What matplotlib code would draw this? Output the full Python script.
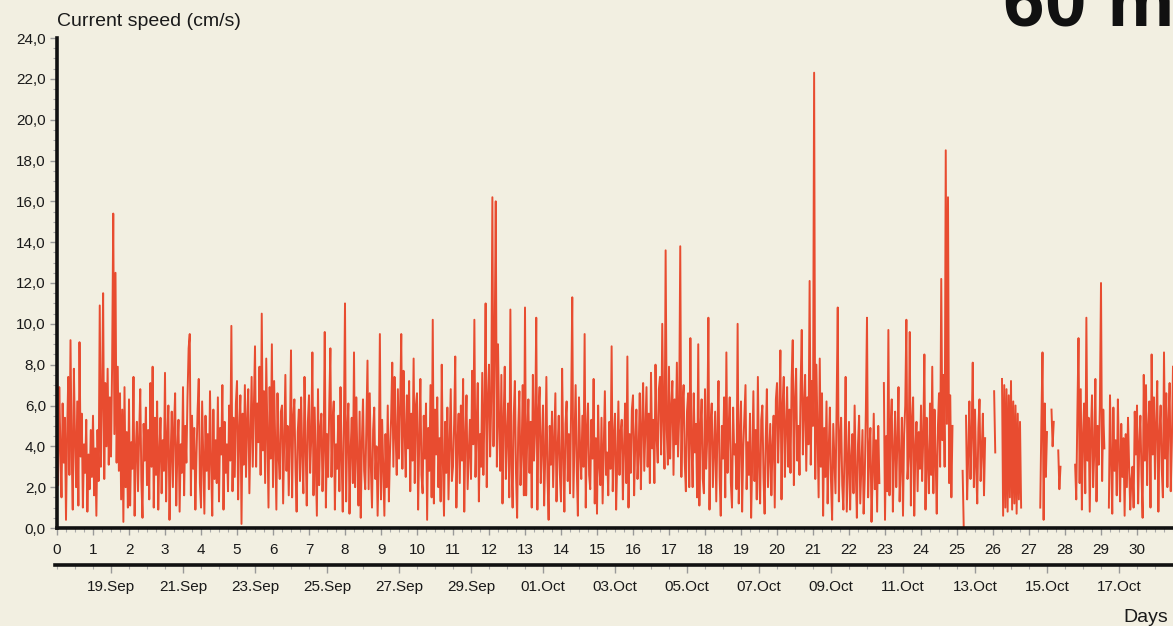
import numpy as np
import matplotlib.pyplot as plt
from matplotlib.ticker import MultipleLocator, FixedLocator, FuncFormatter

nan = np.nan

# current speed (cm/s), 32 readings per day; nan = no data
week1 = [8.3, 2.1, 6.9, 4.0, 1.5, 6.1, 3.2, 5.4, 0.4, 4.6, 7.4, 2.6, 9.2, 3.8, 0.9, 7.8,
         4.4, 2.0, 6.2, 1.1, 9.1, 3.5, 5.6, 1.0, 4.1, 2.7, 5.3, 0.8, 3.6, 1.9, 4.8, 2.5,
         5.5, 1.6, 3.9, 0.6, 4.8, 2.3, 10.9, 3.0, 6.2, 11.5, 2.4, 7.1, 4.0, 7.8, 3.1, 6.4,
         3.5, 8.0, 15.4, 4.6, 12.5, 3.2, 7.9, 2.8, 6.6, 1.4, 5.8, 0.3, 6.9, 2.0, 4.7, 1.0,
         6.3, 1.1, 4.2, 2.9, 7.4, 0.6, 3.8, 5.2, 1.8, 4.5, 6.8, 2.3, 0.5, 5.1, 3.3, 5.9,
         2.1, 4.8, 1.4, 7.1, 3.0, 7.9, 1.0, 5.4, 2.6, 6.2, 0.9, 3.7, 5.4, 1.7, 4.3, 2.8,
         7.6, 1.3, 4.4, 6.0, 0.4, 3.5, 5.7, 2.0, 4.9, 6.6, 1.1, 3.8, 5.3, 0.8, 4.1, 2.7,
         6.9, 1.6, 5.0, 3.2, 6.4, 8.8, 9.5, 1.6, 5.5, 2.9, 4.9, 0.9, 3.6, 5.8, 7.3, 2.2,
         1.0, 6.2, 3.4, 0.7, 5.5, 2.8, 4.6, 1.9, 6.7, 3.1, 0.6, 5.8, 2.4, 4.3, 2.2, 6.4,
         1.3, 4.9, 3.6, 7.0, 0.9, 5.2, 2.7, 4.1, 1.8, 6.0, 3.3, 9.9, 1.8, 5.4, 2.5, 6.1,
         7.2, 1.4, 4.8, 6.5, 0.2, 5.6, 3.1, 7.0, 2.5, 5.2, 6.8, 1.7, 4.5, 7.4, 3.0, 5.9,
         8.9, 3.0, 6.1, 4.2, 7.9, 2.6, 10.5, 3.8, 6.7, 2.2, 8.3, 4.6, 1.0, 6.9, 3.4, 9.0,
         2.0, 7.2, 4.1, 0.9, 6.6, 3.5, 2.4, 5.7, 6.0, 1.2, 4.5, 7.5, 2.8, 5.0, 1.6, 4.3,
         8.7, 1.5, 5.4, 6.3, 2.9, 0.8, 4.7, 5.8, 2.3, 6.4, 3.6, 1.7, 7.4, 4.0, 1.1, 5.2]
week2 = [6.5, 2.7, 4.4, 8.6, 1.6, 5.9, 3.3, 0.6, 6.8, 2.1, 4.9, 5.6, 1.8, 3.9, 9.6, 1.0,
         4.6, 2.5, 6.0, 8.8, 2.5, 5.3, 6.2, 0.9, 4.1, 2.9, 5.5, 1.8, 6.9, 3.4, 0.8, 5.0,
         11.0, 1.3, 4.7, 6.1, 0.7, 3.8, 5.4, 2.2, 8.6, 2.0, 6.4, 3.5, 1.1, 5.7, 0.5, 4.2,
         6.3, 2.8, 1.9, 5.0, 8.2, 1.9, 6.6, 3.0, 1.0, 4.8, 5.9, 2.4, 4.0, 0.6, 3.2, 9.5,
         1.4, 5.3, 3.0, 0.6, 4.6, 2.0, 6.0, 1.3, 3.7, 5.4, 8.1, 3.0, 7.4, 4.5, 2.6, 6.8,
         3.4, 5.9, 9.5, 2.9, 7.7, 4.8, 2.5, 6.5, 3.9, 7.2, 1.8, 5.6, 3.3, 8.3, 2.2, 6.0,
         6.6, 0.9, 4.3, 7.3, 2.6, 1.7, 5.5, 3.4, 6.1, 0.4, 4.9, 2.8, 7.0, 1.5, 10.2, 1.2,
         5.8, 3.6, 6.4, 2.0, 4.4, 1.3, 8.0, 3.2, 0.6, 5.2, 2.7, 5.9, 1.4, 4.0, 6.8, 2.3,
         3.0, 5.1, 8.4, 1.0, 4.2, 5.6, 2.2, 6.0, 3.3, 7.3, 0.8, 4.4, 6.5, 1.9, 3.6, 5.3,
         2.4, 7.7, 4.1, 10.2, 2.5, 5.0, 7.1, 1.3, 4.6, 3.0, 7.6, 2.6, 5.8, 11.0, 2.0, 6.2,
         8.0, 3.5, 6.2, 16.2, 4.0, 8.8, 16.0, 3.0, 9.0, 5.1, 2.8, 7.5, 1.2, 5.3, 7.9, 2.4,
         4.6, 6.1, 1.5, 10.7, 3.1, 1.0, 5.5, 7.2, 2.7, 0.5, 4.9, 6.7, 2.1, 3.8, 7.0, 1.6,
         10.8, 1.6, 4.5, 6.3, 2.7, 5.2, 1.0, 7.5, 3.3, 4.8, 10.3, 0.9, 5.6, 6.9, 2.2, 4.0,
         6.0, 1.1, 3.5, 7.4, 2.5, 0.4, 5.0, 3.1, 5.7, 2.0, 4.3, 6.6, 1.3, 3.9, 5.5, 2.6]
week3 = [1.3, 7.8, 3.6, 0.8, 5.1, 6.2, 2.3, 4.6, 1.7, 5.9, 11.3, 1.5, 4.2, 7.0, 2.9, 0.6,
         6.4, 3.8, 2.4, 5.5, 3.0, 9.5, 1.0, 4.7, 6.1, 2.6, 1.9, 5.3, 3.4, 7.3, 1.2, 4.4,
         0.7, 6.0, 3.1, 2.1, 5.4, 1.2, 4.0, 6.7, 2.6, 3.7, 1.6, 5.2, 2.9, 8.9, 1.8, 4.4,
         5.6, 0.9, 3.3, 6.2, 2.6, 4.7, 5.3, 1.4, 3.9, 6.1, 2.2, 8.4, 1.0, 4.6, 2.7, 5.8,
         6.5, 1.6, 4.2, 5.8, 2.4, 3.7, 6.6, 1.9, 5.0, 7.1, 2.8, 4.9, 6.9, 3.0, 5.6, 2.2,
         7.6, 3.9, 5.3, 2.2, 8.0, 4.4, 3.2, 6.8, 7.4, 3.6, 10.0, 5.2, 2.9, 13.6, 4.8, 3.1,
         7.9, 3.4, 5.9, 7.2, 2.6, 6.3, 4.1, 8.1, 3.5, 5.4, 13.8, 2.5, 6.0, 7.0, 3.2, 1.8,
         5.7, 6.6, 2.0, 9.3, 4.2, 2.0, 6.6, 3.7, 5.1, 1.5, 9.0, 1.1, 4.8, 6.3, 2.4, 1.7,
         6.8, 2.9, 4.4, 10.3, 0.9, 5.2, 6.1, 2.0, 3.8, 5.7, 1.3, 4.6, 7.2, 2.5, 0.6, 5.0,
         3.4, 6.4, 1.5, 8.6, 2.7, 4.9, 6.4, 2.2, 1.0, 5.9, 3.6, 4.1, 1.9, 10.0, 1.2, 4.5,
         6.2, 0.8, 3.9, 5.5, 7.0, 1.9, 4.2, 2.6, 5.6, 0.5, 3.3, 6.7, 2.3, 4.8, 1.4, 7.4,
         3.0, 1.2, 5.3, 6.0, 2.5, 0.7, 4.4, 6.8, 2.0, 3.6, 5.1, 1.6, 4.0, 5.5, 1.0, 6.3,
         7.1, 3.2, 5.4, 8.7, 1.4, 6.0, 7.4, 2.5, 4.9, 6.9, 3.0, 5.8, 2.7, 7.3, 9.2, 2.1,
         6.2, 7.8, 3.3, 5.0, 2.6, 7.0, 9.7, 3.6, 5.9, 7.5, 2.8, 6.4, 4.1, 12.1, 3.1, 7.2]
week4 = [5.0, 22.3, 2.4, 8.0, 4.7, 1.5, 8.3, 3.0, 6.6, 0.6, 4.9, 2.5, 6.2, 1.2, 3.9, 5.9,
         2.3, 0.4, 5.1, 3.4, 1.7, 6.0, 10.8, 1.3, 4.4, 5.4, 2.1, 0.9, 3.6, 7.4, 0.8, 2.9,
         5.2, 0.9, 3.4, 4.6, 1.7, 6.0, 2.8, 0.5, 4.1, 5.5, 1.2, 3.0, 4.8, 0.7, 2.4, 5.8,
         10.3, 1.5, 3.7, 4.9, 0.3, 2.6, 5.6, 1.9, 4.3, 0.8, 5.0, 2.2, nan, nan, nan, 7.1,
         0.4, 4.5, 1.8, 9.7, 1.6, 5.0, 6.3, 0.8, 3.7, 5.7, 2.0, 4.2, 6.9, 1.3, 3.1, 5.4,
         0.6, 4.6, 6.0, 10.2, 2.4, 3.5, 9.6, 1.1, 5.2, 6.4, 0.6, 3.9, 5.2, 1.8, 4.7, 2.9,
         6.0, 2.3, 4.4, 8.5, 0.9, 5.4, 3.2, 1.7, 6.1, 2.6, 7.9, 1.7, 5.8, 3.4, 0.7, 4.9,
         6.6, 3.0, 12.2, 4.3, 7.5, 3.0, 18.5, 5.1, 16.2, 2.2, 6.5, 1.5, 5.0, nan, nan, nan,
         nan, nan, nan, nan, nan, 2.8, 0.0, nan, 5.5, 1.4, 3.6, 6.2, 2.4, 4.7, 8.1, 2.0,
         5.8, 3.0, 1.2, 4.9, 6.3, 2.3, 3.8, 5.6, 1.6, 4.4, nan, nan, nan, nan, nan, nan,
         nan, 6.7, 3.7, nan, nan, nan, nan, nan, 7.3, 0.6, 7.0, 1.0, 6.8, 0.8, 6.5, 1.5,
         7.2, 0.9, 6.2, 1.2, 6.0, 0.7, 5.6, 1.4, 5.2, 1.0, nan, nan, nan, nan, nan, nan,
         nan, nan, nan, nan, nan, nan, nan, nan, nan, nan, 1.0, 5.2, 8.6, 0.4, 6.1, 2.5,
         4.7, nan, nan, nan, 5.8, 4.0, 5.2, nan, nan, nan, 3.8, 1.9, 3.0, nan, nan, nan]
week5 = [nan, nan, nan, nan, nan, nan, nan, nan, nan, 3.1, 1.4, 5.6, 9.3, 2.2, 6.8, 0.9,
         4.5, 6.1, 1.7, 10.3, 3.3, 5.4, 0.8, 4.6, 6.5, 2.0, 3.7, 7.3, 1.3, 5.0, 3.1, 6.0,
         12.0, 2.3, 5.8, 3.9, nan, nan, nan, 1.0, 6.5, 3.4, 0.7, 5.9, 2.8, 4.3, 1.6, 6.3,
         3.5, 1.3, 5.1, 2.5, 4.4, 0.6, 4.6, 2.0, 5.4, 3.0, 0.9, 2.4, 3.0, 1.0, 5.7, 3.6,
         6.0, 1.2, 4.1, 5.5, 2.6, 0.5, 7.5, 3.3, 7.0, 2.1, 4.9, 6.2, 1.0, 8.5, 3.6, 6.4,
         2.4, 5.1, 7.2, 0.8, 4.6, 6.0, 2.9, 1.5, 8.6, 3.4, 6.6, 2.0, 5.3, 7.1, 1.8, 4.2, 7.9]

date_labels = ['19.Sep', '21.Sep', '23.Sep', '25.Sep', '27.Sep', '29.Sep', '01.Oct',
               '03.Oct', '05.Oct', '07.Oct', '09.Oct', '11.Oct', '13.Oct', '15.Oct', '17.Oct']

speed = np.array(week1 + week2 + week3 + week4 + week5)
days = np.arange(len(speed)) / 32.0
# day 0 = 17.Sep 12:00, so each date's midnight sits at x.5
date_pos = [1.5 + 2 * i for i in range(len(date_labels))]

bg = '#f2efe1'
plt.rcParams['font.family'] = ['Liberation Sans', 'DejaVu Sans']

W, H = 1173, 626
fig = plt.figure(figsize=(W / 100, H / 100), dpi=100, facecolor=bg)

ax = fig.add_axes([57 / W, 1 - 528 / H, 1 - 57 / W, (528 - 38) / H])
ax.set_facecolor(bg)
ax.plot(days, speed, color='#e84c30', lw=1.4)
ax.set_xlim(0, 31)
ax.set_ylim(0, 24)
for s in ['top', 'right']:
    ax.spines[s].set_visible(False)
for s in ['left', 'bottom']:
    ax.spines[s].set_linewidth(2.6)
    ax.spines[s].set_color('#111111')

ax.yaxis.set_major_locator(MultipleLocator(2))
ax.yaxis.set_minor_locator(MultipleLocator(0.5))
ax.yaxis.set_major_formatter(FuncFormatter(lambda v, p: f'{v:.1f}'.replace('.', ',')))
ax.xaxis.set_major_locator(FixedLocator(range(0, 31)))
ax.xaxis.set_minor_locator(MultipleLocator(0.25))
ax.tick_params(axis='both', which='major', length=5, width=1, color='#999999',
               labelsize=11, labelcolor='#1a1a1a')
ax.tick_params(axis='both', which='minor', length=3, width=0.8, color='#aaaaaa')
ax.tick_params(axis='y', pad=3)
ax.tick_params(axis='x', pad=6)

# date axis below
ax2 = fig.add_axes([55 / W, 1 - 565 / H, 1 - 55 / W, 0.0001])
ax2.set_xlim(-2 / 36, 31)
ax2.patch.set_visible(False)
for s in ['top', 'right', 'left']:
    ax2.spines[s].set_visible(False)
ax2.spines['bottom'].set_linewidth(2.6)
ax2.spines['bottom'].set_color('#111111')
ax2.set_yticks([])
ax2.xaxis.set_major_locator(FixedLocator(date_pos))
ax2.set_xticklabels(date_labels)
ax2.xaxis.set_minor_locator(MultipleLocator(0.5))
ax2.tick_params(axis='x', which='major', length=6, width=1, color='#999999',
                labelsize=11, labelcolor='#1a1a1a', pad=5)
ax2.tick_params(axis='x', which='minor', length=3, width=0.8, color='#aaaaaa')

fig.text(57 / W, 1 - 22 / H, 'Current speed (cm/s)', fontsize=14, va='center', ha='left',
         color='#1a1a1a')
fig.text(1168 / W, 1 - 617 / H, 'Days', fontsize=14, va='center', ha='right', color='#1a1a1a')
# large heading, cut off by the top edge as in the source
fig.text(1003 / W, 1 - 25 / H, '60 m', fontsize=54, fontweight='bold', va='baseline',
         ha='left', color='#111111')

fig.savefig('out.png', dpi=100, facecolor=bg)
